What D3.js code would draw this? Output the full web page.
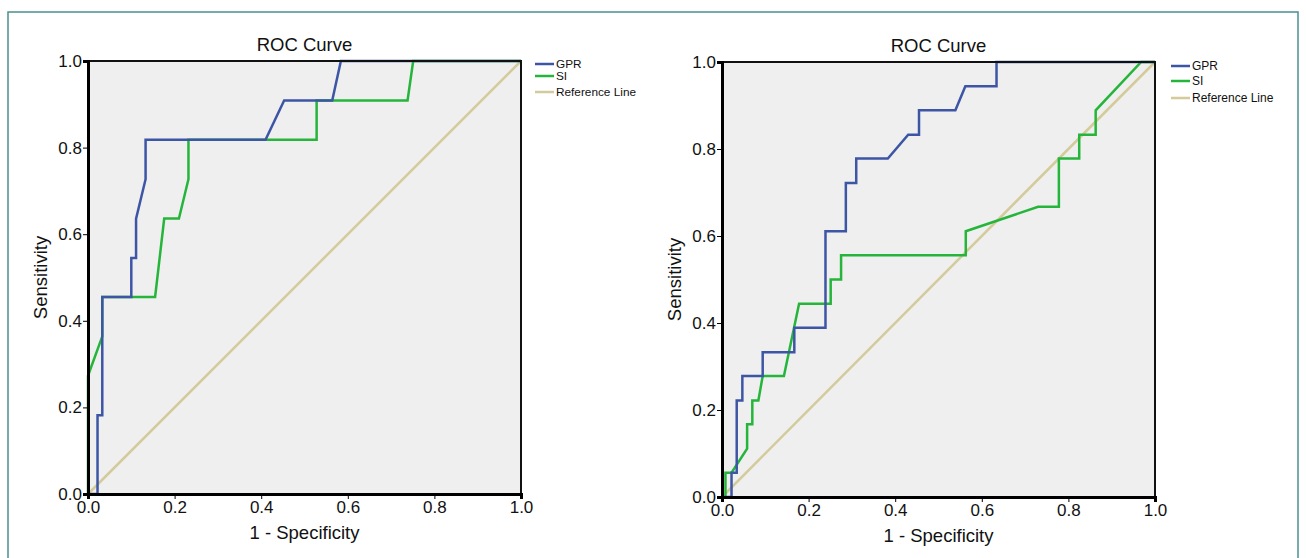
<!DOCTYPE html>
<html>
<head>
<meta charset="utf-8">
<script src="https://cdn.jsdelivr.net/npm/d3@7"></script>
<style>
  body { margin: 0; background: #fff; }
  svg { display: block; font-family: "Liberation Sans", Arial, sans-serif; }
</style>
</head>
<body>
<svg id="chart"></svg>
<script>
// tick labels shared by both panels
const tickValues = [0, 0.2, 0.4, 0.6, 0.8, 1.0]
const seriesNames = ['GPR', 'SI', 'Reference Line']

// left panel, 11 positives
const leftGprX = [0, 0.022, 0.022, 0.033, 0.033, 0.1, 0.1, 0.111, 0.111, 0.133, 0.133, 0.41, 0.453, 0.564, 0.584, 1]
const leftGprY = [0, 0, 0.182, 0.182, 0.455, 0.455, 0.545, 0.545, 0.636, 0.727, 0.818, 0.818, 0.909, 0.909, 1, 1]
const leftSiX = [0, 0, 0.033, 0.033, 0.155, 0.176, 0.21, 0.232, 0.232, 0.528, 0.528, 0.738, 0.751, 1]
const leftSiY = [0, 0.273, 0.364, 0.455, 0.455, 0.636, 0.636, 0.727, 0.818, 0.818, 0.909, 0.909, 1, 1]

// right panel, 18 positives
const rightGprX = [0, 0.022, 0.022, 0.034, 0.034, 0.047, 0.047, 0.094, 0.094, 0.167, 0.167, 0.239, 0.239, 0.286, 0.286, 0.31, 0.31, 0.383, 0.43, 0.455, 0.455, 0.539, 0.562, 0.634, 0.634, 1]
const rightGprY = [0, 0, 0.056, 0.056, 0.222, 0.222, 0.278, 0.278, 0.333, 0.333, 0.389, 0.389, 0.611, 0.611, 0.722, 0.722, 0.778, 0.778, 0.833, 0.833, 0.889, 0.889, 0.944, 0.944, 1, 1]
const rightSiX = [0, 0.008, 0.008, 0.022, 0.058, 0.058, 0.07, 0.07, 0.084, 0.094, 0.143, 0.178, 0.251, 0.251, 0.275, 0.275, 0.563, 0.563, 0.73, 0.778, 0.778, 0.825, 0.825, 0.863, 0.863, 0.968, 1]
const rightSiY = [0, 0, 0.056, 0.056, 0.111, 0.167, 0.167, 0.222, 0.222, 0.278, 0.278, 0.444, 0.444, 0.5, 0.5, 0.556, 0.556, 0.611, 0.667, 0.667, 0.778, 0.778, 0.833, 0.833, 0.889, 1, 1]

const refX = [0, 1]
const refY = [0, 1]

const width = 1306
const height = 558

const colors = { gpr: '#3d55a5', si: '#25b53b', ref: '#d3cb9c' }

const svg = d3.select('#chart')
svg.attr('width', width).attr('height', height)

// outer frame of the figure
svg.append('rect')
    .attr('x', 8).attr('y', 12)
    .attr('width', 1290).attr('height', 560)
    .attr('fill', 'none')
    .attr('stroke', '#4b8f8f')
    .attr('stroke-width', 1.5)

let zip = (xs, ys) => xs.map((x, i) => [x, ys[i]])

let drawPanel = (p) => {
    let xScale = d3.scaleLinear().domain([0, 1]).range([p.left, p.right])
    let yScale = d3.scaleLinear().domain([0, 1]).range([p.bottom, p.top])

    let g = svg.append('g')

    g.append('rect')
        .attr('x', p.left).attr('y', p.top)
        .attr('width', p.right - p.left).attr('height', p.bottom - p.top)
        .attr('fill', '#efefef')

    let line = d3.line()
        .x(d => xScale(d[0]))
        .y(d => yScale(d[1]))

    g.append('path')
        .datum(zip(refX, refY))
        .attr('d', line)
        .attr('fill', 'none')
        .attr('stroke', colors.ref)
        .attr('stroke-width', 2.5)

    g.append('path')
        .datum(zip(p.siX, p.siY))
        .attr('d', line)
        .attr('fill', 'none')
        .attr('stroke', colors.si)
        .attr('stroke-width', 2.5)
        .attr('stroke-linejoin', 'miter')

    g.append('path')
        .datum(zip(p.gprX, p.gprY))
        .attr('d', line)
        .attr('fill', 'none')
        .attr('stroke', colors.gpr)
        .attr('stroke-width', 2.5)
        .attr('stroke-linejoin', 'miter')

    // top and right frame
    g.append('path')
        .attr('d', 'M' + p.left + ',' + p.top + 'H' + p.right + 'V' + p.bottom)
        .attr('fill', 'none')
        .attr('stroke', '#111')
        .attr('stroke-width', 2)

    let xAxis = d3.axisBottom(xScale).tickValues(tickValues).tickFormat(d3.format('.1f')).tickSizeOuter(0).tickSize(5)
    let yAxis = d3.axisLeft(yScale).tickValues(tickValues).tickFormat(d3.format('.1f')).tickSizeOuter(0).tickSize(5)

    let gx = g.append('g')
        .attr('transform', 'translate(0,' + p.bottom + ')')
        .call(xAxis)
    let gy = g.append('g')
        .attr('transform', 'translate(' + p.left + ',0)')
        .call(yAxis)

    ;[gx, gy].forEach(a => {
        a.select('.domain').attr('stroke', '#000').attr('stroke-width', 3)
        a.selectAll('.tick line').attr('stroke', '#000')
        a.selectAll('.tick text').attr('fill', '#111').style('font-size', '17px')
    })
    gx.selectAll('.tick text').attr('dy', '0.75em').attr('y', 6)
    gy.selectAll('.tick text').attr('x', -6)

    g.append('text')
        .attr('x', (p.left + p.right) / 2).attr('y', p.top - 10)
        .attr('text-anchor', 'middle')
        .attr('fill', '#111')
        .style('font-size', '18.5px')
        .text('ROC Curve')

    g.append('text')
        .attr('x', (p.left + p.right) / 2).attr('y', p.bottom + 45)
        .attr('text-anchor', 'middle')
        .attr('fill', '#111')
        .style('font-size', '18.5px')
        .text('1 - Specificity')

    g.append('text')
        .attr('transform', 'translate(' + (p.left - 41) + ',' + (p.top + p.bottom) / 2 + ') rotate(-90)')
        .attr('text-anchor', 'middle')
        .attr('fill', '#111')
        .style('font-size', '18.5px')
        .text('Sensitivity')

    // legend
    let legendColors = [colors.gpr, colors.si, colors.ref]
    let leg = g.append('g')
    seriesNames.forEach((name, i) => {
        let y = p.legendY[i]
        leg.append('line')
            .attr('x1', p.legendX).attr('x2', p.legendX + 19)
            .attr('y1', y).attr('y2', y)
            .attr('stroke', legendColors[i])
            .attr('stroke-width', 2.5)
        leg.append('text')
            .attr('x', p.legendX + 21).attr('y', y)
            .attr('dy', '0.35em')
            .attr('fill', '#111')
            .style('font-size', p.legendFont)
            .text(name)
    })
}

drawPanel({
    left: 88, right: 521, top: 61, bottom: 494,
    gprX: leftGprX, gprY: leftGprY, siX: leftSiX, siY: leftSiY,
    legendX: 535, legendY: [64, 76, 92], legendFont: '11.8px'
})

drawPanel({
    left: 722, right: 1155, top: 62, bottom: 497,
    gprX: rightGprX, gprY: rightGprY, siX: rightSiX, siY: rightSiY,
    legendX: 1171, legendY: [66, 81, 98], legendFont: '12px'
})
</script>
</body>
</html>
